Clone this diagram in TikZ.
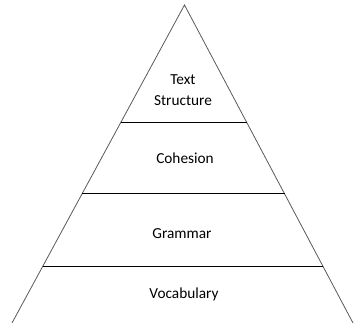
\documentclass[tikz,border=0pt]{standalone}
\usepackage{fontspec}
\setmainfont{Carlito}
\usepackage{tikz}
\usetikzlibrary{calc}

\begin{document}
\begin{tikzpicture}[x=1pt, y=-1pt,
    side/.style={black!65, line width=0.8pt},
    level/.style={black, line width=0.8pt},
    layer/.style={font=\fontsize{15.3}{20.7}\selectfont, align=center, inner sep=0pt}]
    % 画布
    \useasboundingbox (0,0) rectangle (354,323);
    \clip (0,0) rectangle (354,323);
    % 三角形顶点
    \coordinate (apex) at (184.5,5);
    \coordinate (bl) at (12,323);
    \coordinate (br) at (353,323);
    \draw[side] (bl) -- (apex) -- (br);
    % 分层横线
    \foreach \t/\n in {0.368/a, 0.594/b, 0.821/c} {
        \coordinate (l\n) at ($(apex)!\t!(bl)$);
        \coordinate (r\n) at ($(apex)!\t!(br)$);
        \draw[level] (l\n) -- (r\n);
    }
    % 各层文字
    \node[layer] (structure) at (183,90) {Text\\Structure};
    \node[layer] (cohesion) at (185,158) {Cohesion};
    \node[layer] (grammar) at (182,234) {Grammar};
    \node[layer] (vocabulary) at (184,294) {Vocabulary};
\end{tikzpicture}
\end{document}
